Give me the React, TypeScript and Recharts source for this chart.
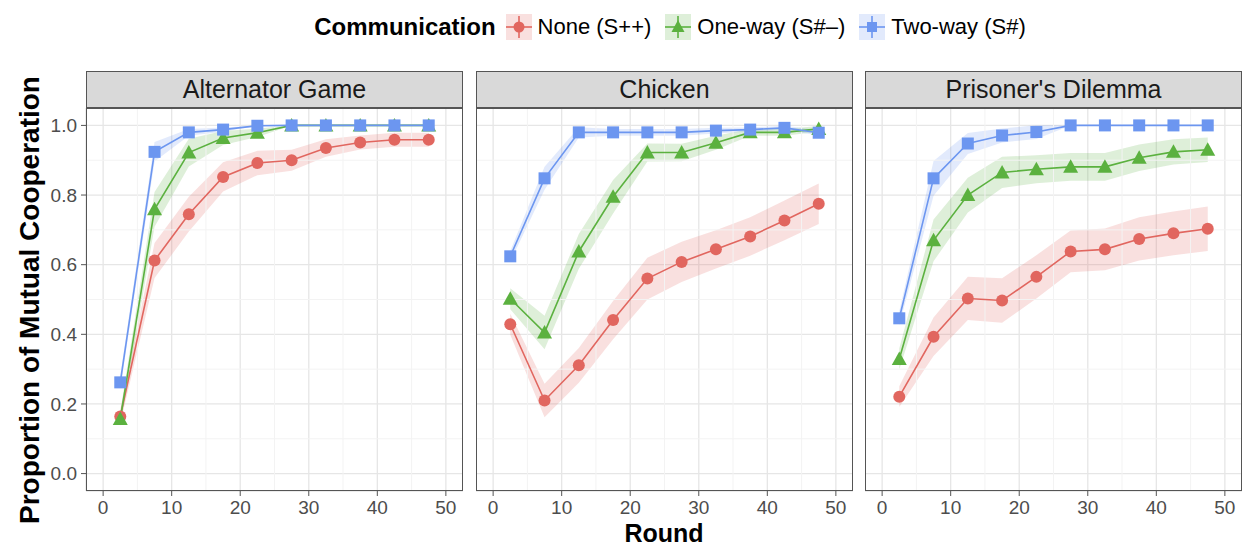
import React from 'react';
import {
  ComposedChart,
  Area,
  Line,
  XAxis,
  YAxis,
  CartesianGrid,
  ReferenceLine,
} from 'recharts';

// rounds are binned in blocks of 5, plotted at the bin centre
const rounds = [2.5, 7.5, 12.5, 17.5, 22.5, 27.5, 32.5, 37.5, 42.5, 47.5];

const xTicks = [0, 10, 20, 30, 40, 50];
const xMinor = [5, 15, 25, 35, 45];
const yTicks = [0, 0.2, 0.4, 0.6, 0.8, 1.0];
const yMinor = [0.1, 0.3, 0.5, 0.7, 0.9];

// Alternator Game
const altNone = [0.164, 0.612, 0.745, 0.852, 0.892, 0.9, 0.935, 0.951, 0.959, 0.959];
const altNoneErr = [0.02, 0.05, 0.05, 0.042, 0.035, 0.03, 0.025, 0.02, 0.02, 0.02];
const altOne = [0.157, 0.759, 0.922, 0.964, 0.979, 1.0, 1.0, 1.0, 1.0, 1.0];
const altOneErr = [0.02, 0.05, 0.04, 0.02, 0.012, 0, 0, 0, 0, 0];
const altTwo = [0.262, 0.924, 0.98, 0.988, 0.999, 1.0, 1.0, 1.0, 1.0, 1.0];
const altTwoErr = [0.02, 0.028, 0.01, 0.006, 0, 0, 0, 0, 0, 0];

// Chicken
const chkNone = [0.429, 0.21, 0.311, 0.441, 0.56, 0.608, 0.644, 0.681, 0.727, 0.775];
const chkNoneErr = [0.03, 0.048, 0.05, 0.055, 0.06, 0.058, 0.055, 0.055, 0.057, 0.058];
const chkOne = [0.502, 0.405, 0.638, 0.795, 0.922, 0.922, 0.95, 0.98, 0.98, 0.99];
const chkOneErr = [0.03, 0.048, 0.05, 0.048, 0.026, 0.025, 0.02, 0.01, 0.01, 0.008];
const chkTwo = [0.624, 0.848, 0.98, 0.98, 0.98, 0.98, 0.985, 0.988, 0.993, 0.979];
const chkTwoErr = [0.015, 0.033, 0.015, 0.01, 0.01, 0.01, 0.008, 0.006, 0.006, 0.008];

// Prisoner's Dilemma
const pdNone = [0.221, 0.393, 0.503, 0.497, 0.565, 0.638, 0.644, 0.674, 0.69, 0.703];
const pdNoneErr = [0.03, 0.055, 0.062, 0.064, 0.062, 0.06, 0.06, 0.062, 0.063, 0.064];
const pdOne = [0.329, 0.67, 0.8, 0.865, 0.874, 0.881, 0.881, 0.907, 0.924, 0.93];
const pdOneErr = [0.03, 0.06, 0.05, 0.045, 0.04, 0.04, 0.04, 0.038, 0.036, 0.035];
const pdTwo = [0.446, 0.848, 0.948, 0.971, 0.981, 1.0, 1.0, 1.0, 1.0, 1.0];
const pdTwoErr = [0.02, 0.05, 0.03, 0.02, 0.02, 0, 0, 0, 0, 0];

const RED = '#E1665F';
const GREEN = '#5BB13F';
const BLUE = '#6C96F0';
const FONT = '"Liberation Sans", Arial, Helvetica, sans-serif';

// layout (page pixels)
const PLOT_W = 377;
const PLOT_TOP = 108;
const PLOT_H = 383;
const STRIP_TOP = 71;
const STRIP_H = 37;
const X_AXIS_H = 30;
const Y_AXIS_W = 50;
const panelLefts = [86, 476, 865];

function buildRows(
  none: number[], noneErr: number[],
  one: number[], oneErr: number[],
  two: number[], twoErr: number[],
) {
  return rounds.map((r, i) => ({
    round: r,
    none: none[i],
    one: one[i],
    two: two[i],
    noneBand: [none[i] - noneErr[i], none[i] + noneErr[i]],
    oneBand: [one[i] - oneErr[i], one[i] + oneErr[i]],
    twoBand: [two[i] - twoErr[i], two[i] + twoErr[i]],
  }));
}

const panels = [
  { title: 'Alternator Game', rows: buildRows(altNone, altNoneErr, altOne, altOneErr, altTwo, altTwoErr) },
  { title: 'Chicken', rows: buildRows(chkNone, chkNoneErr, chkOne, chkOneErr, chkTwo, chkTwoErr) },
  { title: "Prisoner's Dilemma", rows: buildRows(pdNone, pdNoneErr, pdOne, pdOneErr, pdTwo, pdTwoErr) },
];

const CircleDot = (props: any) => {
  const { cx, cy } = props;
  if (cx == null || cy == null) return null;
  return <circle cx={cx} cy={cy} r={6} fill={RED} />;
};

const TriangleDot = (props: any) => {
  const { cx, cy } = props;
  if (cx == null || cy == null) return null;
  const s = 7.5;
  return (
    <path
      d={`M${cx},${cy - s} L${cx + s},${cy + s * 0.8} L${cx - s},${cy + s * 0.8} Z`}
      fill={GREEN}
    />
  );
};

const SquareDot = (props: any) => {
  const { cx, cy } = props;
  if (cx == null || cy == null) return null;
  return <rect x={cx - 6} y={cy - 6} width={12} height={12} fill={BLUE} />;
};

const tickStyle = { fill: '#4D4D4D', fontSize: 19, fontFamily: FONT };

function Panel({ title, rows, left, showY }: { title: string; rows: any[]; left: number; showY: boolean }) {
  const chartLeft = showY ? left - Y_AXIS_W : left;
  const chartW = PLOT_W + (showY ? Y_AXIS_W : 0);
  return (
    <>
      <div
        style={{
          position: 'absolute',
          left,
          top: STRIP_TOP,
          width: PLOT_W,
          height: STRIP_H,
          boxSizing: 'border-box',
          background: '#D9D9D9',
          border: '1px solid #555',
          display: 'flex',
          alignItems: 'center',
          justifyContent: 'center',
          fontFamily: FONT,
          fontSize: 25,
          color: '#1A1A1A',
        }}
      >
        {title}
      </div>
      <div style={{ position: 'absolute', left: chartLeft, top: PLOT_TOP }}>
        <ComposedChart
          width={chartW}
          height={PLOT_H + X_AXIS_H}
          data={rows}
          margin={{ top: 0, right: 0, bottom: 0, left: 0 }}
        >
          {xMinor.map((v) => (
            <ReferenceLine key={`mx${v}`} x={v} stroke="#F3F3F3" strokeWidth={1} />
          ))}
          {yMinor.map((v) => (
            <ReferenceLine key={`my${v}`} y={v} stroke="#F3F3F3" strokeWidth={1} />
          ))}
          <CartesianGrid stroke="#E6E6E6" strokeWidth={1.3} />
          <XAxis
            type="number"
            dataKey="round"
            domain={[-2.5, 52.5]}
            ticks={xTicks}
            height={X_AXIS_H}
            axisLine={false}
            tickLine={{ stroke: '#555' }}
            tickSize={5}
            tickMargin={5}
            tick={tickStyle}
            interval={0}
          />
          <YAxis
            type="number"
            domain={[-0.05, 1.05]}
            ticks={yTicks}
            hide={!showY}
            width={Y_AXIS_W}
            axisLine={false}
            tickLine={{ stroke: '#555' }}
            tickSize={5}
            tickMargin={4}
            tick={tickStyle}
            interval={0}
            tickFormatter={(v: number) => v.toFixed(1)}
          />
          <Area dataKey="noneBand" type="linear" stroke="none" fill={RED} fillOpacity={0.2} isAnimationActive={false} />
          <Area dataKey="oneBand" type="linear" stroke="none" fill={GREEN} fillOpacity={0.2} isAnimationActive={false} />
          <Area dataKey="twoBand" type="linear" stroke="none" fill={BLUE} fillOpacity={0.2} isAnimationActive={false} />
          <Line dataKey="none" type="linear" stroke={RED} strokeWidth={1.6} dot={false} isAnimationActive={false} />
          <Line dataKey="one" type="linear" stroke={GREEN} strokeWidth={1.6} dot={false} isAnimationActive={false} />
          <Line dataKey="two" type="linear" stroke={BLUE} strokeWidth={1.6} dot={false} isAnimationActive={false} />
          <Line dataKey="none" type="linear" stroke="none" dot={<CircleDot />} activeDot={false} isAnimationActive={false} />
          <Line dataKey="one" type="linear" stroke="none" dot={<TriangleDot />} activeDot={false} isAnimationActive={false} />
          <Line dataKey="two" type="linear" stroke="none" dot={<SquareDot />} activeDot={false} isAnimationActive={false} />
        </ComposedChart>
      </div>
      <div
        style={{
          position: 'absolute',
          left,
          top: PLOT_TOP,
          width: PLOT_W,
          height: PLOT_H,
          boxSizing: 'border-box',
          border: '1px solid #555',
          pointerEvents: 'none',
        }}
      />
    </>
  );
}

function LegendKey({ color, shape }: { color: string; shape: 'circle' | 'triangle' | 'square' }) {
  return (
    <svg width={26} height={26} style={{ display: 'block' }}>
      <rect x={0} y={0} width={26} height={26} fill={color} fillOpacity={0.2} />
      <line x1={0} y1={13} x2={26} y2={13} stroke={color} strokeWidth={1.6} />
      <line x1={13} y1={2} x2={13} y2={24} stroke={color} strokeWidth={1.6} />
      {shape === 'circle' && <circle cx={13} cy={13} r={5.5} fill={color} />}
      {shape === 'triangle' && <path d="M13,6 L19.5,18 L6.5,18 Z" fill={color} />}
      {shape === 'square' && <rect x={8} y={8} width={10} height={10} fill={color} />}
    </svg>
  );
}

const legendItems = [
  { label: 'None (S++)', color: RED, shape: 'circle' as const },
  { label: 'One-way (S#\u2013)', color: GREEN, shape: 'triangle' as const },
  { label: 'Two-way (S#)', color: BLUE, shape: 'square' as const },
];

export default function App() {
  return (
    <div
      style={{
        position: 'absolute',
        left: 0,
        top: 0,
        width: 1245,
        height: 546,
        background: '#fff',
        fontFamily: FONT,
        overflow: 'hidden',
      }}
    >
      {/* legend */}
      <div
        style={{
          position: 'absolute',
          left: 92,
          width: 1156,
          top: 14,
          height: 26,
          display: 'flex',
          alignItems: 'center',
          justifyContent: 'center',
        }}
      >
        <span style={{ fontWeight: 700, fontSize: 24, marginRight: 10, color: '#000' }}>Communication</span>
        {legendItems.map((it, i) => (
          <div
            key={it.label}
            style={{ display: 'flex', alignItems: 'center', marginRight: i < legendItems.length - 1 ? 14 : 0 }}
          >
            <LegendKey color={it.color} shape={it.shape} />
            <span style={{ fontSize: 22, marginLeft: 6, color: '#000' }}>{it.label}</span>
          </div>
        ))}
      </div>

      {panels.map((p, i) => (
        <Panel key={p.title} title={p.title} rows={p.rows} left={panelLefts[i]} showY={i === 0} />
      ))}

      {/* axis titles */}
      <div
        style={{
          position: 'absolute',
          left: 30,
          top: 300,
          transform: 'translate(-50%, -50%) rotate(-90deg)',
          whiteSpace: 'nowrap',
          fontWeight: 700,
          fontSize: 28,
          lineHeight: 1,
          color: '#000',
        }}
      >
        Proportion of Mutual Cooperation
      </div>
      <div
        style={{
          position: 'absolute',
          left: 664,
          top: 533,
          transform: 'translate(-50%, -50%)',
          whiteSpace: 'nowrap',
          fontWeight: 700,
          fontSize: 25,
          lineHeight: 1,
          color: '#000',
        }}
      >
        Round
      </div>
    </div>
  );
}
